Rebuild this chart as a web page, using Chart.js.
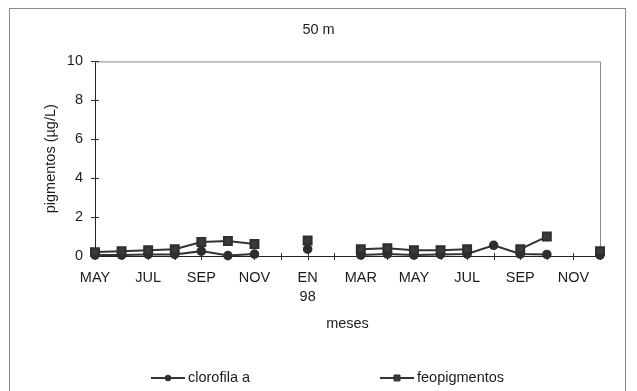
<!DOCTYPE html>
<html>
<head>
<meta charset="utf-8">
<script src="https://cdn.jsdelivr.net/npm/chart.js@4/dist/chart.umd.min.js"></script>
<style>
  html, body { margin: 0; padding: 0; background: #fff; }
  #wrap { width: 637px; height: 391px; }
</style>
</head>
<body>
<div id="wrap"><canvas id="pigChart" width="637" height="391"></canvas></div>
<script>
// ---- data (50 m station, May 97 - Dec 98) ----
const months = ["MAY", "", "JUL", "", "SEP", "", "NOV", "", ["EN", "98"], "",
                "MAR", "", "MAY", "", "JUL", "", "SEP", "", "NOV", ""];
const clorofila = [0.05, 0.05, 0.08, 0.08, 0.25, 0.02, 0.1, null, 0.35, null,
                   0.05, 0.1, 0.05, 0.08, 0.1, 0.55, 0.1, 0.08, null, 0.05];
const feopigmentos = [0.2, 0.25, 0.3, 0.35, 0.72, 0.77, 0.62, null, 0.8, null,
                      0.35, 0.4, 0.3, 0.3, 0.35, null, 0.35, 1.0, null, 0.25];
const yTicks = [0, 2, 4, 6, 8, 10];

const INK = "#1c1c1c";
const FONT = '"Liberation Sans", Arial, sans-serif';
Chart.defaults.font.family = FONT;
Chart.defaults.font.size = 14.5;
Chart.defaults.color = INK;

// frame of the whole chart + plot area border + crossing tick marks
const framePlugin = {
  id: "frame",
  beforeDatasetsDraw(chart) {
    const { ctx, chartArea: a } = chart;
    ctx.save();
    ctx.strokeStyle = "#8a8a8a";
    ctx.lineWidth = 1;
    ctx.strokeRect(9.5, 8.5, 616, 400);
    ctx.beginPath();
    ctx.moveTo(a.left, a.top + 0.5);
    ctx.lineTo(a.right + 0.5, a.top + 0.5);
    ctx.lineTo(a.right + 0.5, a.bottom);
    ctx.stroke();

    const x = chart.scales.x, y = chart.scales.y;
    ctx.strokeStyle = "#333";
    ctx.beginPath();
    y.ticks.forEach(t => {
      const py = Math.round(y.getPixelForValue(t.value)) + 0.5;
      ctx.moveTo(a.left - 4, py);
      ctx.lineTo(a.left + 4, py);
    });
    x.ticks.forEach((t, i) => {
      const px = Math.round(x.getPixelForTick(i)) + 0.5;
      ctx.moveTo(px, a.bottom - 3);
      ctx.lineTo(px, a.bottom + 4);
    });
    ctx.stroke();
    ctx.restore();
  }
};

// Excel style legend: line with marker, then the name
const legendPlugin = {
  id: "lineLegend",
  afterDraw(chart) {
    const ctx = chart.ctx;
    const y = chart.height - 13;
    const starts = [151, 380];
    chart.data.datasets.forEach((ds, i) => {
      const x0 = starts[i];
      ctx.save();
      ctx.strokeStyle = ds.borderColor;
      ctx.lineWidth = 2;
      ctx.beginPath();
      ctx.moveTo(x0, y);
      ctx.lineTo(x0 + 34, y);
      ctx.stroke();
      ctx.fillStyle = ds.pointBackgroundColor;
      ctx.strokeStyle = ds.pointBorderColor;
      ctx.lineWidth = 1;
      Chart.helpers.drawPoint(ctx, { pointStyle: ds.pointStyle, radius: ds.pointRadius * 0.75, borderWidth: 1 }, x0 + 17, y);
      ctx.fillStyle = INK;
      ctx.font = "14.5px " + FONT;
      ctx.textBaseline = "middle";
      ctx.fillText(ds.label, x0 + 37, y);
      ctx.restore();
    });
  }
};

new Chart(document.getElementById("pigChart"), {
  type: "line",
  data: {
    labels: months,
    datasets: [
      {
        label: "clorofila a",
        data: clorofila,
        borderColor: "#333",
        borderWidth: 2,
        pointStyle: "circle",
        pointRadius: 3.8,
        pointBackgroundColor: "#2e2e2e",
        pointBorderColor: "#2e2e2e",
        spanGaps: false,
        order: 1,
        clip: false
      },
      {
        label: "feopigmentos",
        data: feopigmentos,
        borderColor: "#333",
        borderWidth: 2,
        pointStyle: "rect",
        pointRadius: 5.6,
        pointBackgroundColor: "#3a3a3a",
        pointBorderColor: "#2e2e2e",
        spanGaps: false,
        order: 0,
        clip: false
      }
    ]
  },
  options: {
    responsive: false,
    animation: false,
    events: [],
    layout: { padding: { left: 0, right: 0, top: 0, bottom: 50 } },
    plugins: {
      legend: { display: false },
      tooltip: { enabled: false },
      title: {
        display: true,
        text: "50 m",
        color: INK,
        font: { size: 14.5, weight: "normal" },
        padding: { top: 21, bottom: 23 }
      }
    },
    scales: {
      x: {
        type: "category",
        offset: false,
        grid: { display: false, drawTicks: false },
        border: { display: true, color: "#222", width: 1 },
        ticks: { autoSkip: false, maxRotation: 0, padding: 13, color: INK,
                 font: { size: 14.5, lineHeight: 1.28 } },
        title: { display: true, text: "meses", color: INK,
                 font: { size: 14.5 }, padding: { top: 0, bottom: 8 } },
        afterFit: s => { s.height = 85; }
      },
      y: {
        min: 0,
        max: 10,
        afterBuildTicks: s => { s.ticks = yTicks.map(v => ({ value: v })); },
        grid: { display: false, drawTicks: false },
        border: { display: true, color: "#222", width: 1 },
        ticks: { padding: 12, color: INK, font: { size: 14.5 } },
        title: { display: true, text: "pigmentos (µg/L)", color: INK,
                 font: { size: 14.5 }, padding: { top: 42, bottom: 0 } },
        afterFit: s => { s.width = 95; }
      },
      y2: {
        type: "linear",
        position: "right",
        display: true,
        grid: { display: false, drawTicks: false },
        border: { display: false },
        ticks: { display: false },
        afterFit: s => { s.width = 37; }
      }
    }
  },
  plugins: [framePlugin, legendPlugin]
});
</script>
</body>
</html>
